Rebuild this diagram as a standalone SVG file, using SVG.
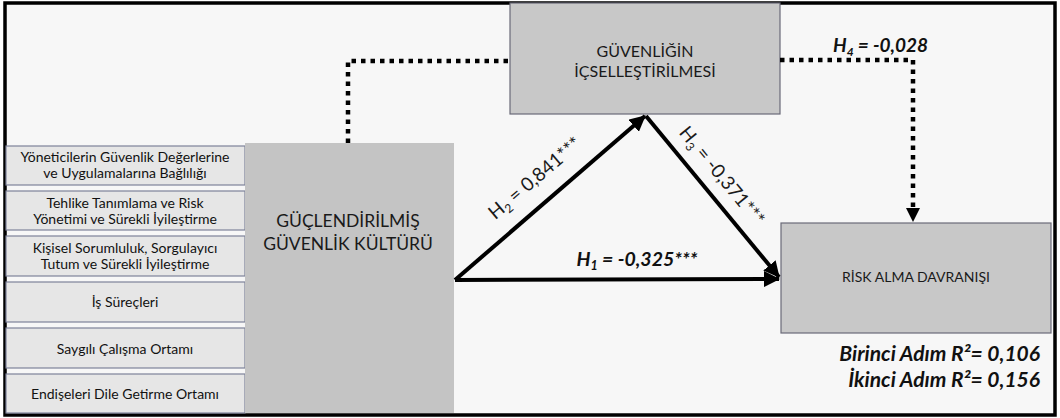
<svg xmlns="http://www.w3.org/2000/svg" width="1060" height="418" viewBox="0 0 1060 418">
<defs>
<style>
.bg{fill:#f7f7f7;stroke:#000;stroke-width:3.5}
.sub{fill:#e6e6e6;stroke:#7d8299;stroke-width:1.2}
.main{fill:#c4c4c4;stroke:none}
.box{fill:#c8c8c8;stroke:#6a6a78;stroke-width:1.2}
.t{font-family:Lato,"Liberation Sans",sans-serif;fill:#1a1a1a;text-anchor:middle}
.s{font-size:14px;fill:#111}
.lbl{font-family:Lato,"Liberation Sans",sans-serif;fill:#111;font-weight:bold;font-style:italic}
.solid{stroke:#000;stroke-width:4;fill:none}
.dot{stroke:#000;stroke-width:4.5;fill:none;stroke-dasharray:4.5 5}
</style>
<marker id="ah" markerUnits="userSpaceOnUse" markerWidth="18" markerHeight="16" refX="15" refY="8" orient="auto">
<path d="M0,0 L16,8 L0,16 Z" fill="#000"/>
</marker>
</defs>
<rect class="bg" x="5" y="3" width="1050" height="412"/>

<g id="n-sub1"><rect class="sub" x="6" y="146" width="239" height="39"/>
<text class="t s" x="125" y="162">Yöneticilerin Güvenlik Değerlerine</text>
<text class="t s" x="125" y="178">ve Uygulamalarına Bağlılığı</text></g>
<g id="n-sub2"><rect class="sub" x="6" y="191" width="239" height="39"/>
<text class="t s" x="125" y="208">Tehlike Tanımlama ve Risk</text>
<text class="t s" x="125" y="224">Yönetimi ve Sürekli İyileştirme</text></g>
<g id="n-sub3"><rect class="sub" x="6" y="236" width="239" height="40"/>
<text class="t s" x="125" y="253">Kişisel Sorumluluk, Sorgulayıcı</text>
<text class="t s" x="125" y="269">Tutum ve Sürekli İyileştirme</text></g>
<g id="n-sub4"><rect class="sub" x="6" y="282" width="239" height="40"/>
<text class="t s" x="125" y="307">İş Süreçleri</text></g>
<g id="n-sub5"><rect class="sub" x="6" y="328" width="239" height="40"/>
<text class="t s" x="125" y="354">Saygılı Çalışma Ortamı</text></g>
<g id="n-sub6"><rect class="sub" x="6" y="374" width="239" height="39"/>
<text class="t s" x="125" y="399">Endişeleri Dile Getirme Ortamı</text></g>

<g id="n-main"><rect class="main" x="245" y="143" width="209" height="270"/>
<text class="t" x="348" y="227" font-size="17.5">GÜÇLENDİRİLMİŞ</text>
<text class="t" x="348" y="250" font-size="17.5">GÜVENLİK KÜLTÜRÜ</text></g>

<g id="n-ic"><rect class="box" x="510" y="3" width="270" height="111"/>
<text class="t" x="645" y="57" font-size="16">GÜVENLİĞİN</text>
<text class="t" x="645" y="77" font-size="16">İÇSELLEŞTİRİLMESİ</text></g>

<g id="n-risk"><rect class="box" x="781" y="223" width="270" height="110"/>
<text class="t" x="916" y="282" font-size="14">RİSK ALMA DAVRANIŞI</text></g>

<g id="connectors">
<path class="dot" d="M348,143 V61 H510"/>
<path class="dot" d="M780,60 H913 V210"/>
<path d="M906,208 L920,208 L913,222 Z" fill="#000"/>
<line class="solid" x1="455" y1="280" x2="645" y2="116" marker-end="url(#ah)"/>
<line class="solid" x1="646" y1="116" x2="779" y2="277" marker-end="url(#ah)"/>
<line class="solid" x1="455" y1="280" x2="779" y2="279" marker-end="url(#ah)"/>
</g>

<g id="labels">
<text class="t" font-size="19" transform="translate(539,183) rotate(-40.4)">H<tspan font-size="12" dy="4">2</tspan><tspan dy="-4"> = 0,841***</tspan></text>
<text class="t" font-size="19" transform="translate(717,180) rotate(50.6)">H<tspan font-size="12" dy="4">3</tspan><tspan dy="-4"> = -0,371***</tspan></text>
<text class="lbl" font-size="19.5" x="637" y="266" text-anchor="middle">H<tspan font-size="12.5" dy="4">1</tspan><tspan dy="-4"> = -0,325***</tspan></text>
<text class="lbl" font-size="19" x="833" y="52">H<tspan font-size="12" dy="4">4</tspan><tspan dy="-4"> = -0,028</tspan></text>
<text class="lbl" font-size="21" x="1040" y="361" text-anchor="end">Birinci Adım R²= 0,106</text>
<text class="lbl" font-size="21" x="1040" y="387" text-anchor="end">İkinci Adım R²= 0,156</text>
</g>
</svg>
